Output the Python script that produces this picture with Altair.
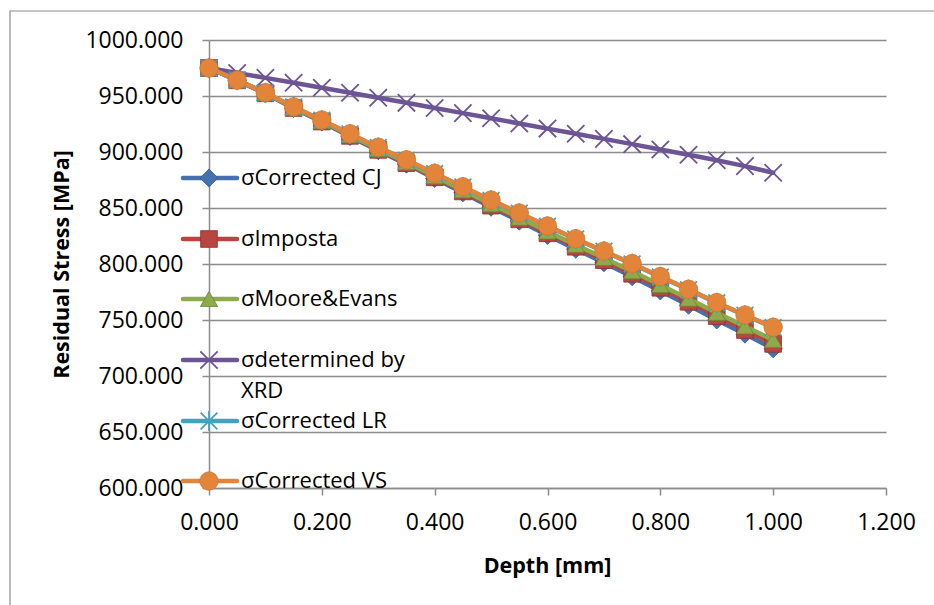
import altair as alt
import pandas as pd

# Depth below the surface, mm
depth = [0.00, 0.05, 0.10, 0.15, 0.20, 0.25, 0.30, 0.35, 0.40, 0.45, 0.50,
         0.55, 0.60, 0.65, 0.70, 0.75, 0.80, 0.85, 0.90, 0.95, 1.00]

# Residual stress profiles, MPa
corrected_cj = [975.0, 963.9, 952.2, 939.0, 926.8, 913.9, 901.2, 889.2, 876.4, 863.6, 850.7,
                838.3, 825.6, 813.3, 801.1, 788.7, 776.0, 763.2, 750.1, 737.4, 724.3]
imposta = [975.0, 964.0, 952.4, 939.3, 927.2, 914.4, 901.9, 890.0, 877.4, 864.8, 852.1,
           839.9, 827.4, 815.4, 803.4, 791.3, 778.8, 766.3, 753.5, 741.1, 728.7]
moore_evans = [975.0, 964.1, 952.6, 939.6, 927.6, 914.9, 902.5, 890.8, 878.3, 865.8, 853.3,
               841.3, 829.0, 817.1, 805.4, 793.5, 781.2, 769.0, 756.4, 744.3, 732.2]
xrd = [975.0, 970.6, 966.2, 961.8, 957.4, 952.9, 948.4, 943.9, 939.3, 934.7, 930.1,
       925.5, 920.9, 916.3, 911.7, 907.0, 902.3, 897.5, 892.7, 887.4, 881.5]
corrected_lr = [975.0, 964.2, 952.9, 940.1, 928.4, 916.1, 904.0, 892.7, 880.7, 868.7, 856.8,
                845.3, 833.6, 822.3, 811.3, 800.1, 788.5, 777.1, 765.3, 754.2, 743.2]
corrected_vs = [975.0, 964.3, 953.0, 940.3, 928.6, 916.3, 904.3, 893.0, 881.0, 869.0, 857.1,
                845.6, 833.9, 822.6, 811.6, 800.4, 788.8, 777.4, 765.6, 754.5, 743.5]

series_names = ["σCorrected CJ", "σImposta", "σMoore&Evans",
                "σdetermined by XRD", "σCorrected LR", "σCorrected VS"]
series_values = [corrected_cj, imposta, moore_evans, xrd, corrected_lr, corrected_vs]

x_ticks = [0.0, 0.2, 0.4, 0.6, 0.8, 1.0, 1.2]
y_ticks = [600, 650, 700, 750, 800, 850, 900, 950, 1000]

# Styling per series: line colour, marker shape, marker fill, marker outline, size
X_PATH = "M-1,-1L1,1M1,-1L-1,1"
STAR_PATH = "M-1,-1L1,1M1,-1L-1,1M0,-1.2L0,1.2"
styles = [
    dict(color="#4472AE", shape="diamond", filled=True, edge="#355A8A", size=330),
    dict(color="#B8453F", shape="square", filled=True, edge="#8C3530", size=280),
    dict(color="#8DAB4A", shape="triangle-up", filled=True, edge="#6E873A", size=300),
    dict(color="#6D5595", shape=X_PATH, filled=False, edge="#6D5595", size=300),
    dict(color="#45A2BE", shape=STAR_PATH, filled=False, edge="#45A2BE", size=280),
    dict(color="#E2843A", shape="circle", filled=True, edge="#D0782F", size=340),
]

rows = []
for name, vals in zip(series_names, series_values):
    for d, v in zip(depth, vals):
        rows.append({"series": name, "depth": d, "stress": v})
df = pd.DataFrame(rows)

FONT = "Open Sans"
GRID = "#8C8C8C"

x_enc = alt.X(
    "depth:Q",
    scale=alt.Scale(domain=[0, 1.2], nice=False, zero=False),
    axis=alt.Axis(values=x_ticks, format=".3f", grid=False, tickSize=7, labelFlush=False,
                  tickColor=GRID, domainColor=GRID, domainWidth=1.5, tickWidth=1.5,
                  labelFont=FONT, labelFontSize=23, labelColor="#000000",
                  labelBaseline="middle", labelPadding=27,
                  title="Depth [mm]", titleFont=FONT, titleFontSize=21.5,
                  titleFontWeight="bold", titleColor="#000000",
                  titleX=338, titleY=78, titleBaseline="middle", titleAlign="center"),
)
y_enc = alt.Y(
    "stress:Q",
    scale=alt.Scale(domain=[600, 1000], nice=False, zero=False),
    axis=alt.Axis(values=y_ticks, format=".3f", grid=True, gridColor=GRID, gridWidth=1.5,
                  tickSize=7, tickColor=GRID, tickWidth=1.5, domainColor=GRID, domainWidth=1.5,
                  labelFlush=False,
                  labelFont=FONT, labelFontSize=23, labelColor="#000000", labelPadding=19,
                  title="Residual Stress [MPa]", titleFont=FONT, titleFontSize=21.5,
                  titleFontWeight="bold", titleColor="#000000",
                  titleX=-147, titleY=224, titleAngle=270,
                  titleBaseline="middle", titleAlign="center"),
)

one = pd.DataFrame({"k": [0]})

# Outer chart frame
frame = alt.Chart(one).mark_rect(fill=None, stroke=GRID, strokeWidth=1.2).encode(
    x=alt.value(-199), x2=alt.value(1000), y=alt.value(-29), y2=alt.value(700)
)

layers = [frame]

# Each series: line, then its markers on top
for name, st in zip(series_names, styles):
    base = alt.Chart(df).transform_filter(alt.datum.series == name)
    line = base.mark_line(strokeWidth=4.5, strokeCap="round", strokeJoin="round",
                          color=st["color"]).encode(x=x_enc, y=y_enc)
    if st["filled"]:
        pts = base.mark_point(shape=st["shape"], filled=True, size=st["size"], opacity=1,
                              fill=st["color"], stroke=st["edge"], strokeWidth=0.8)
    else:
        pts = base.mark_point(shape=st["shape"], filled=False, size=st["size"], opacity=1,
                              stroke=st["color"], strokeWidth=1.8)
    layers += [line, pts.encode(x=x_enc, y=y_enc)]

# Legend drawn inside the plot area along the vertical axis
legend_rows = [138, 199, 259, 320, 381, 441]   # row centres, px from the plot top
for name, st, ly in zip(series_names, styles, legend_rows):
    layers.append(
        alt.Chart(one).mark_rule(strokeWidth=4.5, strokeCap="round", color=st["color"]).encode(
            x=alt.value(-26), x2=alt.value(28), y=alt.value(ly))
    )
    if st["filled"]:
        sym = alt.Chart(one).mark_point(shape=st["shape"], filled=True, size=st["size"], opacity=1,
                                        fill=st["color"], stroke=st["edge"], strokeWidth=0.8)
    else:
        sym = alt.Chart(one).mark_point(shape=st["shape"], filled=False, size=st["size"], opacity=1,
                                        stroke=st["color"], strokeWidth=1.8)
    layers.append(sym.encode(x=alt.value(0), y=alt.value(ly)))
    label_lines = ["σdetermined by", "XRD"] if name == "σdetermined by XRD" else [name]
    for i, txt in enumerate(label_lines):
        layers.append(
            alt.Chart(one).mark_text(text=txt, align="left", baseline="middle", font=FONT,
                                     fontSize=22, color="#000000").encode(
                x=alt.value(32), y=alt.value(ly + 31 * i))
        )

chart = alt.layer(*layers).properties(
    width=677,
    height=448,
    autosize=alt.AutoSizeParams(type="none"),
    padding={"left": 209, "top": 40, "right": 48, "bottom": 117},
    background="#FFFFFF",
).configure_view(stroke=None)

chart.save("out.html", embed_options={"renderer": "svg", "actions": False})
